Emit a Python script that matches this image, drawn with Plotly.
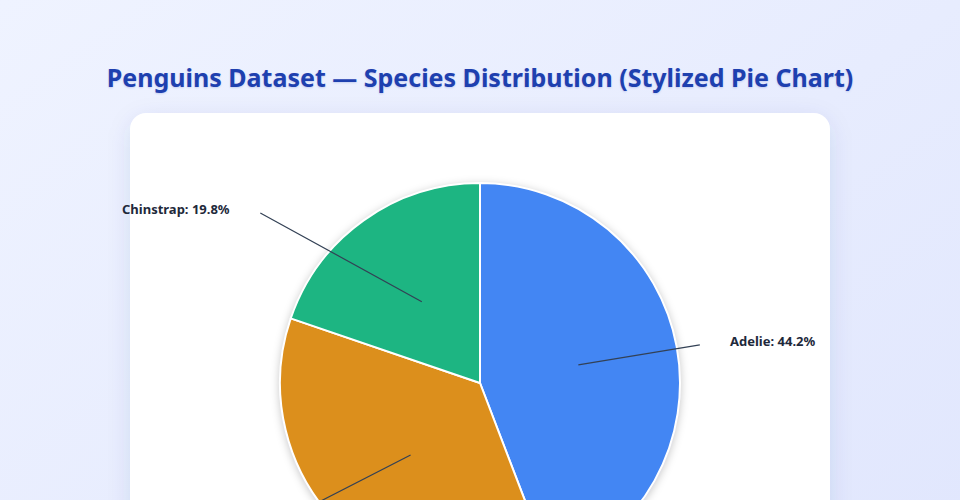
import base64
import math
import plotly.graph_objects as go

# ---- data ----
species = ["Adelie", "Gentoo", "Chinstrap"]
counts = [152, 124, 68]

# ---- style ----
slice_colors = ["#4386f3", "#dc8f1c", "#1db582"]
W, H = 960, 700
CX, CY, R = 480, 383, 200          # pie geometry in pixels
# leader-line end offset (from anchor inside the slice) and label side
line_ends = {"Adelie": (122, -20), "Gentoo": (-240, 123), "Chinstrap": (-162, -89)}
LABEL_GAP = 28
LINE_COLOR = "#334155"
LABEL_FONT = dict(family="Noto Sans", size=13, color="#1e293b", weight="bold")

total = sum(counts)
pcts = [c / total * 100 for c in counts]

fig = go.Figure()
fig.add_trace(go.Pie(
    labels=species, values=counts, sort=False, direction="clockwise", rotation=0,
    marker=dict(colors=slice_colors, line=dict(color="#ffffff", width=2)),
    textinfo="none", showlegend=False,
    domain=dict(x=[(CX - R) / W, (CX + R) / W], y=[1 - (CY + R) / H, 1 - (CY - R) / H]),
    hovertemplate="%{label}: %{percent:.1%}<extra></extra>",
))

# labels with leader lines starting inside each slice
start = 0.0
for name, p in zip(species, pcts):
    mid = start + p / 2
    start += p
    theta = math.radians(90 - mid * 3.6)
    px = CX + 0.5 * R * math.cos(theta)
    py = CY - 0.5 * R * math.sin(theta)
    dx, dy = line_ends[name]
    # leader line
    fig.add_annotation(
        x=px / W, y=1 - py / H, xref="paper", yref="paper", text="",
        showarrow=True, arrowhead=0, arrowwidth=1.2, arrowcolor=LINE_COLOR,
        ax=dx, ay=dy, standoff=0, borderpad=0,
    )
    # label text
    ex, ey = px + dx, py + dy
    right = dx > 0
    fig.add_annotation(
        x=(ex + (LABEL_GAP if right else -LABEL_GAP)) / W, y=1 - (ey - 4) / H,
        xref="paper", yref="paper", text=f"{name}: {p:.1f}%", showarrow=False,
        xanchor="left" if right else "right", yanchor="middle", font=LABEL_FONT,
    )

svg = f'''<svg xmlns="http://www.w3.org/2000/svg" width="{W}" height="{H}" viewBox="0 0 {W} {H}">
<defs>
<linearGradient id="bg" x1="0" y1="0" x2="1" y2="1"><stop offset="0" stop-color="#eff3ff"/><stop offset="1" stop-color="#dfe5fd"/></linearGradient>
<filter id="cs" x="-20%" y="-20%" width="140%" height="140%"><feGaussianBlur stdDeviation="12"/></filter>
<filter id="ps" x="-20%" y="-20%" width="140%" height="140%"><feGaussianBlur stdDeviation="4"/></filter>
</defs>
<rect width="100%" height="100%" fill="url(#bg)"/>
<rect x="132" y="121" width="696" height="800" rx="16" fill="#1e3a8a" fill-opacity="0.13" filter="url(#cs)"/>
<rect x="130" y="113" width="700" height="800" rx="16" fill="#ffffff"/>
<circle cx="{CX}" cy="{CY + 2}" r="{R + 1}" fill="#0f172a" fill-opacity="0.22" filter="url(#ps)"/>
</svg>'''
uri = "data:image/svg+xml;base64," + base64.b64encode(svg.encode()).decode()

fig.update_layout(
    width=W, height=H, margin=dict(l=0, r=0, t=0, b=0),
    paper_bgcolor="#eef2ff", plot_bgcolor="#ffffff",
    images=[dict(source=uri, xref="paper", yref="paper", x=0, y=1, sizex=1, sizey=1,
                 xanchor="left", yanchor="top", sizing="stretch", layer="below")],
    title=dict(text="Penguins Dataset — Species Distribution (Stylized Pie Chart)",
               x=0.5, xanchor="center", y=1 - 78 / H, yanchor="middle", yref="paper",
               font=dict(family="Noto Sans", size=25, color="#1e40af", weight="bold",
                         shadow="0px 1px 2px rgba(30,64,175,0.18)")),
)

fig.write_html(
    "out.html",
    config={"displayModeBar": False},
    post_script="document.body.style.margin='0';document.body.style.overflow='hidden';"
                "document.body.style.background='#eef2ff';",
)
